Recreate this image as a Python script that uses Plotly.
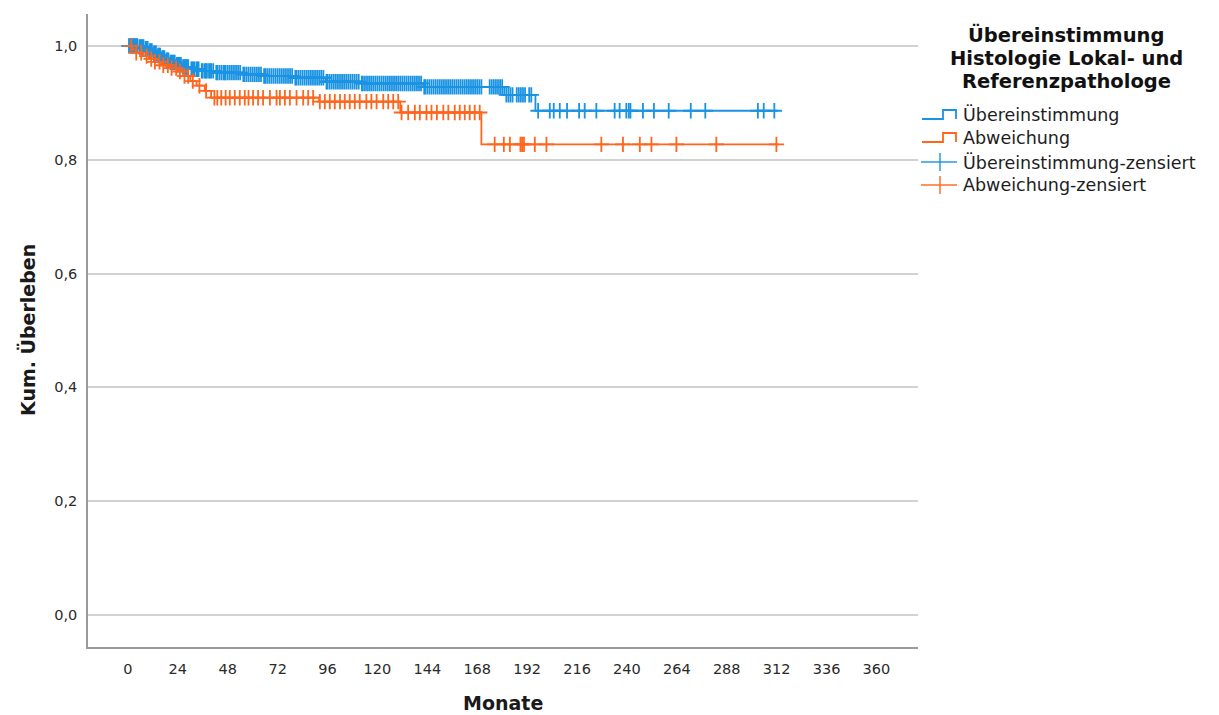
import numpy as np
import plotly.graph_objects as go

# Kaplan-Meier step data (months, cumulative survival)
blue_times = [0, 5, 8, 10, 12, 14, 16, 18, 20, 23, 26, 30, 35, 42, 55, 65, 80, 95, 112, 142, 181, 196]
blue_surv = [1.0, 0.998, 0.995, 0.991, 0.987, 0.983, 0.979, 0.975, 0.971, 0.967, 0.963, 0.959, 0.956,
             0.953, 0.950, 0.947, 0.944, 0.937, 0.934, 0.928, 0.914, 0.886]
blue_end = 312.5

orange_times = [0, 2, 4, 7, 10, 13, 16, 20, 24, 27, 30, 33, 37, 40, 92, 131, 170]
orange_surv = [1.0, 0.994, 0.988, 0.982, 0.977, 0.972, 0.966, 0.961, 0.955, 0.947, 0.938, 0.930,
               0.921, 0.909, 0.902, 0.883, 0.827]
orange_end = 313

# Censoring times
blue_cens = [0.5, 1, 1.5, 2, 2.5, 3, 3.5, 4, 4.5, 5.5, 6, 6.5, 7, 7.5, 8.5, 9, 9.5, 10.5, 11, 11.5,
             12.5, 13, 13.5, 14.5, 15, 15.5, 16.5, 17, 17.5, 18.5, 19, 19.5, 20.5, 21, 21.5, 22, 22.5,
             23.5, 24, 24.5, 25, 25.5, 26.5, 27, 27.5, 28, 28.5, 29, 30.5, 31, 31.5, 32, 33, 33.5, 34,
             35.5, 36, 37, 37.5, 38, 39, 39.5, 40, 41, 42.5, 43, 44, 45, 46, 46.5, 47, 48, 49, 50,
             51, 52, 53, 54, 55.5, 56, 57, 58, 59, 60, 61, 62, 63, 64, 65.5, 66, 67, 68, 69, 70,
             71, 72, 73, 74, 75, 76, 77, 78, 79, 80.5, 81, 82, 83, 84, 85, 86, 87, 88, 89, 90, 91,
             92, 93, 94, 95.5, 96, 97, 98, 99, 100, 101, 102, 103, 104, 105, 106, 107, 108, 109,
             110, 111, 112.5, 113, 114, 115, 116, 117, 118, 119, 120, 121, 122, 123, 124, 125, 126,
             127, 128, 129, 130, 131, 132, 133, 134, 135, 136, 137, 138, 139, 140, 141, 142.5, 143,
             144, 145, 146, 147, 148, 149, 150, 151, 152, 153, 154, 155, 156, 157, 158, 159, 160,
             161, 162, 163, 164, 165, 166, 167, 168, 169, 170, 174, 175, 176, 177, 178, 179, 180,
             182, 183, 184, 185, 187, 188, 189, 190, 191, 193, 194,
             197.3, 202.9, 204.8, 207.7, 211.2, 217, 219.7, 225.3, 234.1, 236.5, 239.7, 240.9,
             241.7, 247.7, 253, 260.1, 270.7, 277.7, 303, 305.8, 310.9]
orange_cens = [1.6, 4, 6.4, 9, 11.2, 13, 15.2, 17, 19.2, 21, 23.2, 25, 27.2, 29, 31.2, 34.4, 37.6,
               41.6, 43, 44.9, 47, 49, 51.4, 53.8, 56.2, 58, 60.2, 62.6, 65, 68.3, 71.5, 73.1, 75.5,
               77.9, 81.1, 84.3, 86.7, 89.1, 92.3, 94.7, 97.1, 99.5, 102, 104.3, 106.7, 109.1, 111.5,
               114.7, 117.1, 119.6, 122.8, 125.2, 127.6, 130, 131.6, 134.8, 138, 140.4, 143.6, 146,
               148.6, 151.7, 154.1, 157.2, 159.6, 162, 164.4, 166.8, 169.2, 176.4, 180.8, 183.7,
               188.8, 189.6, 190.5, 195.7, 201.3, 227.7, 238.1, 246.2, 251.8, 263.8, 283, 311.9]

x_ticks = [0, 24, 48, 72, 96, 120, 144, 168, 192, 216, 240, 264, 288, 312, 336, 360]
y_ticks = [0.0, 0.2, 0.4, 0.6, 0.8, 1.0]

legend_title = ["Übereinstimmung", "Histologie Lokal- und", "Referenzpathologe"]
legend_labels = ["Übereinstimmung", "Abweichung", "Übereinstimmung-zensiert", "Abweichung-zensiert"]

BLUE = "#1a93e3"
ORANGE = "#ff651c"
FONT = "DejaVu Sans"


def surv_at(times, surv, t):
    idx = np.searchsorted(np.asarray(times), np.asarray(t), side="right") - 1
    return np.asarray(surv)[idx]


fig = go.Figure()

for times, surv, end, cens, col in [
    (blue_times, blue_surv, blue_end, blue_cens, BLUE),
    (orange_times, orange_surv, orange_end, orange_cens, ORANGE),
]:
    fig.add_trace(go.Scatter(
        x=list(times) + [end], y=list(surv) + [surv[-1]],
        mode="lines", line=dict(color=col, width=1.8, shape="hv"),
        showlegend=False, hoverinfo="skip"))
    fig.add_trace(go.Scatter(
        x=cens, y=surv_at(times, surv, cens), mode="markers",
        marker=dict(symbol="cross-thin", size=11, line=dict(color=col, width=1.8)),
        showlegend=False, hoverinfo="skip"))

# Plot area geometry (pixels) for paper-coordinate placement
L, R, T, B = 88, 918, 14, 647
W, H = 1219, 715


def px(x):
    return (x - L) / (R - L)


def py(y):
    return (B - y) / (B - T)


annotations = []
shapes = []

# Axis titles
annotations.append(dict(text="<b>Monate</b>", x=px(503), y=py(703), xref="paper", yref="paper",
                        showarrow=False, font=dict(family=FONT, size=19, color="#1a1a1a"),
                        xanchor="center", yanchor="middle"))
annotations.append(dict(text="<b>Kum. Überleben</b>", x=px(27), y=py(330), xref="paper", yref="paper",
                        showarrow=False, textangle=-90, font=dict(family=FONT, size=19, color="#1a1a1a"),
                        xanchor="center", yanchor="middle"))

# Legend title
for line, yc in zip(legend_title, [35, 58, 82]):
    annotations.append(dict(text=f"<b>{line}</b>", x=px(1066), y=py(yc), xref="paper", yref="paper",
                            showarrow=False, font=dict(family=FONT, size=19.5, color="#111"),
                            xanchor="center", yanchor="middle"))

# Legend entries
item_y = [115, 138, 162, 185]
for label, yc in zip(legend_labels, item_y):
    annotations.append(dict(text=label, x=px(961), y=py(yc), xref="paper", yref="paper",
                            showarrow=False, font=dict(family=FONT, size=17.5, color="#1e1e1e"),
                            xanchor="left", yanchor="middle"))

for col, yc in [(BLUE, item_y[0]), (ORANGE, item_y[1])]:
    yb, yt = yc + 4, yc - 5
    path = (f"M {px(922)} {py(yb)} L {px(943)} {py(yb)} L {px(943)} {py(yt)} "
            f"L {px(956)} {py(yt)} L {px(956)} {py(yb)}")
    shapes.append(dict(type="path", path=path, xref="paper", yref="paper",
                       line=dict(color=col, width=1.8)))

for col, yc in [(BLUE, item_y[2]), (ORANGE, item_y[3])]:
    shapes.append(dict(type="line", x0=px(921), x1=px(957), y0=py(yc), y1=py(yc),
                       xref="paper", yref="paper", line=dict(color=col, width=2), opacity=0.7))
    shapes.append(dict(type="line", x0=px(940), x1=px(940), y0=py(yc - 9), y1=py(yc + 9),
                       xref="paper", yref="paper", line=dict(color=col, width=2), opacity=0.7))

fig.update_layout(
    width=W, height=H,
    margin=dict(l=L, r=W - R, t=T, b=H - B),
    paper_bgcolor="white", plot_bgcolor="white",
    separators=",.",
    showlegend=False,
    annotations=annotations,
    shapes=shapes,
    font=dict(family=FONT, size=14.5, color="#333"),
)

fig.update_xaxes(
    range=[-19.2, 380], tickvals=x_ticks, showgrid=False, zeroline=False,
    showline=True, linecolor="#9a9a9a", linewidth=1.6,
    ticks="outside", ticklen=8, tickcolor="rgba(0,0,0,0)",
    tickfont=dict(family=FONT, size=14.5, color="#2a2a2a"),
)
fig.update_yaxes(
    range=[-0.056, 1.056], tickvals=y_ticks, tickformat=".1f",
    showgrid=True, gridcolor="#d2d2d2", gridwidth=1.5, zeroline=False,
    showline=True, linecolor="#9a9a9a", linewidth=1.6,
    ticks="outside", ticklen=6, tickcolor="rgba(0,0,0,0)",
    tickfont=dict(family=FONT, size=14.5, color="#2a2a2a"),
)

fig.write_html("out.html")
